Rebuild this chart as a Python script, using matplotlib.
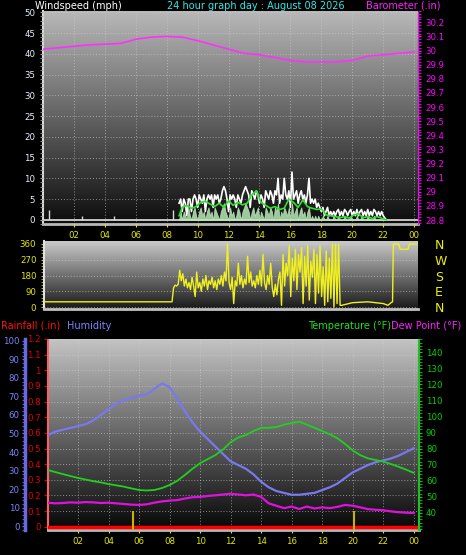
import numpy as np
import matplotlib
matplotlib.use("Agg")
import matplotlib.pyplot as plt
from matplotlib.colors import LinearSegmentedColormap
from matplotlib.ticker import MultipleLocator

# ---- data ----
baro_hours = list(range(25))
baro_values = [30.01, 30.02, 30.03, 30.04, 30.045, 30.05, 30.08, 30.095, 30.10, 30.095,
               30.07, 30.04, 30.01, 29.98, 29.97, 29.95, 29.93, 29.92, 29.92, 29.92,
               29.93, 29.96, 29.97, 29.98, 29.99]

# isolated gusts overnight
spike_hours = [0.4, 2.5, 4.6, 8.4]
spike_values = [2.3, 1.0, 1.0, 2.3]

# gusts from 08:48 to 22:12, one sample every 6 minutes
gust_start = 8.8
gust_values = [4, 5, 2, 5, 4, 1, 5, 5, 2, 5, 6, 5, 3, 6, 5, 4, 6, 2, 5, 6,
               5, 6, 3, 6, 5, 6, 4, 5, 7, 8, 7, 5, 2, 6, 5, 6, 5, 3, 6, 5,
               4, 6, 7, 8, 7, 6, 3, 7, 6, 5, 7, 6, 4, 6, 5, 3, 7, 6, 5, 7,
               6, 4, 7, 6, 10, 4, 6, 5, 10, 6, 5, 7, 3, 11.5, 5, 6, 7, 4, 6, 7,
               5, 6, 4, 6, 10, 4, 5, 4, 5, 3, 4, 3, 2, 3, 1, 2, 3, 1, 2, 1,
               2, 1, 2, 2.5, 1, 2, 1, 2.5, 2, 1, 2, 2.5, 1, 2, 1, 2.5, 1, 2, 2.5, 1,
               2, 1, 2.5, 1, 2, 1, 2.5, 2, 1, 2, 1, 2, 1, 0.5, 0]
lull_values = [0, 2, 0, 2, 1, 0, 3, 1, 0, 2, 3, 1, 0, 2, 3, 1, 2, 0, 2, 3,
               1, 2, 0, 3, 2, 1, 0, 2, 3, 4, 2, 1, 0, 3, 1, 2, 0, 1, 3, 2,
               0, 2, 3, 4, 3, 2, 0, 2, 3, 1, 2, 3, 0, 2, 1, 0, 3, 2, 1, 3,
               2, 0, 3, 2, 4, 0, 2, 1, 3, 2, 1, 3, 0, 4, 1, 2, 3, 0, 2, 3,
               1, 2, 0, 2, 3, 0, 1, 0, 1, 0, 1, 0, 0, 1, 0, 0, 1, 0, 0, 0,
               1, 0, 0, 1, 0, 0, 0, 1, 0, 0, 0, 1, 0, 0, 0, 1, 0, 0, 1, 0,
               0, 0, 1, 0, 0, 0, 1, 0, 0, 0, 0, 0, 0, 0, 0]
avg_hours = [8.8, 9.0, 9.3, 9.6, 9.9, 10.2, 10.5, 10.8, 11.1, 11.4, 11.7, 12.0, 12.3,
             12.6, 12.9, 13.2, 13.5, 13.8, 14.1, 14.4, 14.7, 15.0, 15.3, 15.6, 15.9,
             16.2, 16.5, 16.8, 17.1, 17.4, 17.7, 18.0, 18.3, 18.6, 18.9, 19.2, 19.5,
             19.8, 20.1, 20.4, 20.7, 21.0, 21.3, 21.6, 21.9, 22.2]
avg_values = [1.0, 3.0, 3.5, 2.8, 3.2, 4.2, 4.5, 3.8, 3.2, 4.0, 3.0, 4.6, 3.5,
              4.2, 3.6, 4.0, 6.0, 7.0, 4.2, 3.5, 2.8, 3.2, 2.5, 2.8, 5.0,
              4.2, 3.0, 4.8, 3.2, 2.8, 2.5, 2.6, 1.2, 1.0, 0.8, 0.5, 0.8,
              0.4, 1.2, 1.5, 0.5, 0.8, 0.3, 0.8, 0.4, 0.0]

# wind direction (degrees)
dir_hours_calm = [0.0, 8.3]
dir_calm = [30, 30]
dir_start = 8.4
dir_values = [110, 125, 120, 130, 210, 150, 190, 120, 160, 110, 140, 100, 170, 120, 60,
              200, 110, 140, 90, 160, 120, 180, 100, 150, 130, 170, 110, 150, 100, 160,
              130, 180, 120, 200, 150, 360, 140, 100, 170, 20, 150, 120, 250, 130, 180,
              110, 160, 130, 290, 140, 200, 120, 150, 110, 180, 130, 210, 120, 300, 140,
              100, 180, 130, 250, 110, 60, 130, 70, 160, 200, 10, 300, 120, 250, 180,
              350, 60, 280, 150, 330, 100, 300, 200, 340, 20, 290, 120, 350, 40, 260,
              170, 330, 20, 300, 80, 350, 60, 230, 10, 320, 30, 280, 50, 360, 0,
              360, 20, 360, 10]
dir_hours_tail = [19.3, 20.0, 21.0, 22.0, 22.3, 22.5, 22.6, 22.65, 23.0, 23.1, 23.6, 23.7, 24.2]
dir_tail = [10, 25, 30, 20, 10, 25, 30, 360, 360, 330, 330, 360, 360]

half_hours = [h / 2 for h in range(49)]
humidity = [49, 51, 52, 53, 54, 55, 57, 60, 63, 66, 68, 69, 70.5, 71, 74, 77, 75,
            69, 62, 56, 51, 47, 43, 39, 35, 33, 31, 28, 24, 21, 19, 18, 17, 17,
            17.5, 18, 19.5, 21, 23, 26, 29, 31, 33, 34.5, 35.5, 36.5, 38, 40, 42]
temperature = [66.8, 65.5, 64.2, 63, 61.8, 60.8, 59.8, 59, 58, 57.2, 56.4, 55.3, 54.3,
               54, 54.3, 55.5, 57.4, 60, 63.6, 67.5, 71, 73.5, 76, 79.5, 84, 87, 88.5,
               91, 93, 93, 93.5, 95, 96, 96.8, 95, 93, 91, 89, 86.5, 83, 79, 76, 74,
               73, 72, 70.5, 68.8, 67, 65]
dew_point = [46.4, 46, 46.2, 46.6, 46.4, 46.8, 46.6, 46.2, 46.4, 46, 45.6, 45.2, 45,
             45.4, 46.4, 47.2, 47.7, 48, 49, 49.8, 50, 50.6, 51, 51.5, 52, 51.5, 51,
             51.5, 50, 46, 44.5, 43, 44, 42.5, 44, 42.8, 43.5, 43, 43.8, 45, 44.5,
             43.5, 42.4, 42, 41.7, 41, 40.5, 40.2, 40]
rain_hours = [0, 24.3]
rain_values = [0, 0]
event_hours = [5.6, 20.1]
event_heights = [0.1, 0.1]

hour_ticks = list(range(2, 25, 2))
hour_labels = ["%02d" % (h % 24) for h in hour_ticks]

FONT = 6.2
GRID = dict(color="#d0d0d0", linestyle=(0, (1, 2)), linewidth=0.7, alpha=0.6)


def add_gradient(ax, top, bottom):
    cmap = LinearSegmentedColormap.from_list("bg", [bottom, top])
    grad = np.linspace(1, 0, 256).reshape(-1, 1)
    ax.imshow(grad, extent=[0, 1, 0, 1], transform=ax.transAxes,
              aspect="auto", cmap=cmap, zorder=0)


fig = plt.figure(figsize=(4.66, 5.55), dpi=100, facecolor="black")

# ---------------- windspeed / barometer ----------------
ax_w = fig.add_axes([43 / 466, 1 - 224 / 555, 375 / 466, 213 / 555])
add_gradient(ax_w, "#b8b8b8", "#0c0c0c")
hours_g = gust_start + 0.1 * np.arange(len(gust_values))
ax_w.plot(hours_g, gust_values, color="white", lw=1.2, zorder=3)
ax_w.vlines(spike_hours, 0, spike_values, color="#d8d8d8", lw=1.0, zorder=3)
ax_w.fill_between(hours_g, 0, lull_values, color="#b8e8b8", lw=0.6, alpha=0.85, zorder=4)
ax_w.plot(avg_hours, avg_values, color="#30e030", lw=1.2, zorder=5)
ax_w.axhline(0, color="#e0e0e0", lw=1.2, zorder=2)
ax_w.set_xlim(0, 24.25)
ax_w.set_ylim(-1, 50.3)
ax_w.yaxis.set_major_locator(MultipleLocator(5))
ax_w.yaxis.set_minor_locator(MultipleLocator(1))
ax_w.set_xticks(hour_ticks)
ax_w.set_xticklabels(hour_labels)
ax_w.tick_params(axis="x", colors="#e8e800", labelsize=FONT, length=2, pad=3)
ax_w.tick_params(axis="y", which="both", colors="#a0a0a0", labelcolor="#e8f0ff",
                 labelsize=FONT, length=2)
ax_w.grid(True, **GRID)
ax_w.set_axisbelow(False)
ax_w.spines["top"].set_visible(False)
ax_w.spines["left"].set_color("#d8d8d8")
ax_w.spines["left"].set_linewidth(1.5)
ax_w.spines["bottom"].set_color("#b8b8b8")
ax_w.spines["bottom"].set_linewidth(2)

ax_b = ax_w.twinx()
ax_b.plot(baro_hours, baro_values, color="#ff30ff", lw=1.2, zorder=5)
ax_b.set_ylim(28.772, 30.28)
ax_b.yaxis.set_major_locator(MultipleLocator(0.1))
ax_b.yaxis.set_minor_locator(MultipleLocator(0.02))
ax_b.yaxis.set_major_formatter(plt.FuncFormatter(lambda v, p: ("%.1f" % v).rstrip("0").rstrip(".")))
ax_b.tick_params(axis="y", which="both", colors="#ff00ff", labelsize=FONT, length=2)
ax_b.spines["right"].set_color("#ff00ff")
ax_b.spines["right"].set_linestyle((0, (1, 1)))
for s in ("top", "left", "bottom"):
    ax_b.spines[s].set_visible(False)

# ---------------- wind direction ----------------
ax_d = fig.add_axes([44 / 466, 1 - 309 / 555, 374 / 466, 68 / 555])
add_gradient(ax_d, "#cacaca", "#181818")
hours_d = dir_start + 0.1 * np.arange(len(dir_values))
dir_x = list(dir_hours_calm) + list(hours_d) + list(dir_hours_tail)
dir_y = list(dir_calm) + list(dir_values) + list(dir_tail)
ax_d.plot(dir_x, dir_y, color="#f0f020", lw=1.0, zorder=3)
ax_d.set_xlim(0, 24.25)
ax_d.set_ylim(-11, 377)
ax_d.set_yticks([0, 90, 180, 270, 360])
ax_d.yaxis.set_minor_locator(MultipleLocator(18))
ax_d.set_xticks(hour_ticks)
ax_d.tick_params(axis="x", length=0, labelbottom=False)
ax_d.tick_params(axis="y", which="both", colors="#c8c800", labelcolor="#e8e800",
                 labelsize=FONT, length=2)
ax_d.grid(True, axis="y", **GRID)
ax_d.spines["top"].set_visible(False)
ax_d.spines["right"].set_visible(False)
ax_d.spines["left"].set_color("#e0e0e0")
ax_d.spines["left"].set_linewidth(1.5)
ax_d.spines["bottom"].set_color("#c0c0c0")
ax_d.spines["bottom"].set_linewidth(2)

ax_c = ax_d.twinx()
ax_c.set_ylim(ax_d.get_ylim())
ax_c.set_yticks([0, 90, 180, 270, 360])
ax_c.set_yticklabels(["N", "E", "S", "W", "N"])
ax_c.tick_params(axis="y", length=0, pad=12, labelcolor="#f0f000", labelsize=9)
for s in ax_c.spines.values():
    s.set_visible(False)

# ---------------- rain / humidity / temperature ----------------
ax_r = fig.add_axes([47.5 / 466, 1 - 530 / 555, 371.5 / 466, 191 / 555])
add_gradient(ax_r, "#c4c4c4", "#060606")
ax_r.plot(rain_hours, rain_values, color="#ff0000", lw=2.5, zorder=6)
ax_r.vlines(event_hours, -0.021, event_heights, color="#c8b400", lw=1.5, zorder=6)
ax_r.set_xlim(0, 24.35)
ax_r.set_ylim(-0.021, 1.2)
ax_r.yaxis.set_major_locator(MultipleLocator(0.1))
ax_r.yaxis.set_major_formatter(plt.FuncFormatter(lambda v, p: ("%.1f" % v).rstrip("0").rstrip(".") if v > 0.05 else "0"))
ax_r.set_xticks(hour_ticks)
ax_r.set_xticklabels(hour_labels)
ax_r.tick_params(axis="x", colors="#e8e800", labelsize=FONT, length=2, pad=3)
ax_r.tick_params(axis="y", colors="#e00000", labelsize=FONT, length=3, pad=2)
ax_r.grid(True, **GRID)
ax_r.spines["top"].set_visible(False)
ax_r.spines["right"].set_visible(False)
ax_r.spines["left"].set_color("#ff6060")
ax_r.spines["left"].set_linestyle((0, (1, 1)))
ax_r.spines["left"].set_linewidth(1.5)
ax_r.spines["bottom"].set_color("#b8b8b8")
ax_r.spines["bottom"].set_linewidth(2)

ax_h = ax_r.twinx()
ax_h.plot(half_hours, humidity, color="#7878f0", lw=1.6, zorder=4)
ax_h.set_ylim(-2, 100.9)
ax_h.yaxis.set_major_locator(MultipleLocator(10))
ax_h.yaxis.set_minor_locator(MultipleLocator(2))
ax_h.yaxis.set_ticks_position("left")
ax_h.spines["left"].set_position(("outward", 16))
ax_h.spines["left"].set_visible(True)
ax_h.spines["left"].set_color("#6a6ae0")
ax_h.spines["left"].set_linewidth(2.5)
ax_h.tick_params(axis="y", which="both", colors="#7070e0", labelcolor="#8080ff",
                 labelsize=FONT, length=2, pad=2)
for s in ("top", "right", "bottom"):
    ax_h.spines[s].set_visible(False)

ax_t = ax_r.twinx()
ax_t.plot(half_hours, temperature, color="#20d020", lw=1.3, zorder=5)
ax_t.plot(half_hours, dew_point, color="#e010e0", lw=1.6, zorder=5)
ax_t.set_ylim(29.4, 148.3)
ax_t.yaxis.set_major_locator(MultipleLocator(10))
ax_t.yaxis.set_minor_locator(MultipleLocator(2))
ax_t.yaxis.set_major_formatter(plt.FuncFormatter(lambda v, p: "%d" % v if v >= 40 else ""))
ax_t.tick_params(axis="y", which="both", colors="#00d000", labelsize=FONT, length=2, pad=3)
ax_t.spines["right"].set_color("#20c020")
ax_t.spines["right"].set_linestyle((0, (1, 1)))
ax_t.spines["right"].set_linewidth(1.5)
for s in ("top", "left", "bottom"):
    ax_t.spines[s].set_visible(False)

# ---------------- header texts ----------------
fs = 7.0
fig.text(35 / 466, 1 - 6 / 555, "Windspeed (mph)", color="white", fontsize=fs, va="center")
fig.text(256 / 466, 1 - 6 / 555, "24 hour graph day : August 08 2026", color="#30e8e8",
         fontsize=fs, va="center", ha="center")
fig.text(440 / 466, 1 - 6 / 555, "Barometer (.in)", color="#ff20ff", fontsize=fs,
         va="center", ha="right")
fig.text(1 / 466, 1 - 326 / 555, "Rainfall (.in)", color="#ff1010", fontsize=fs, va="center")
fig.text(67 / 466, 1 - 326 / 555, "Humidity", color="#8080ff", fontsize=fs, va="center")
fig.text(391 / 466, 1 - 326 / 555, "Temperature (°F)", color="#20e020", fontsize=fs,
         va="center", ha="right")
fig.text(391 / 466, 1 - 326 / 555, "Dew Point (°F)", color="#ff20ff", fontsize=fs,
         va="center", ha="left")

fig.savefig("out.png", dpi=100, facecolor="black")
